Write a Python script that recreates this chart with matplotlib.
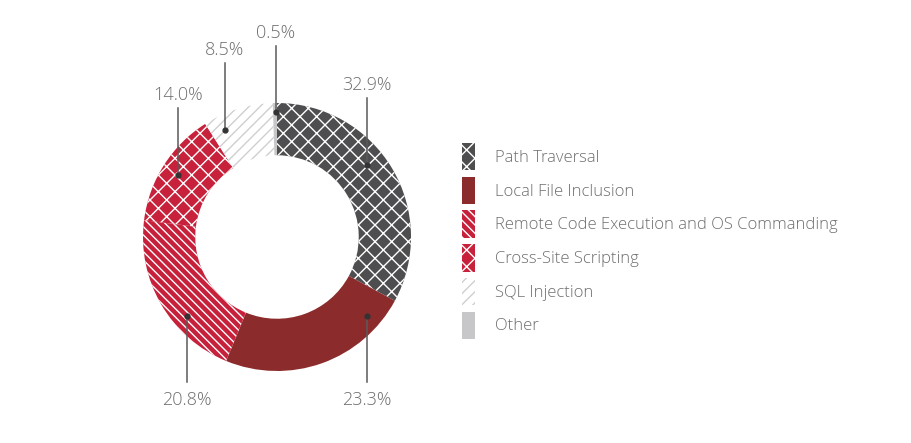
import matplotlib
matplotlib.use('Agg')
import matplotlib.pyplot as plt

categories = ['Path Traversal', 'Local File Inclusion',
              'Remote Code Execution and OS Commanding',
              'Cross-Site Scripting', 'SQL Injection', 'Other']
shares = [32.9, 23.3, 20.8, 14.0, 8.5, 0.5]
label_texts = ['32.9%', '23.3%', '20.8%', '14.0%', '8.5%', '0.5%']

face_colors = ['#4e4e50', '#8c2b2b', '#c6203b', '#c8213b', '#ffffff', '#c7c7c9']
hatch_colors = ['#ffffff', '#8c2b2b', '#ffffff', '#ffffff', '#cfcfcf', '#c7c7c9']
hatches = ['xx', '', '\\\\\\\\', 'xx', '///', '']

# leader layout in pixels: (x, label y, dot y)
leaders = [(367, 85, 165), (367, 400, 316), (187, 400, 316),
           (178, 95, 175), (225, 50, 130), (276, 33, 112)]

W, H = 912, 443
CX, CY, R = 277, 237, 134

plt.rcParams['font.family'] = ['Open Sans', 'DejaVu Sans']
plt.rcParams['hatch.linewidth'] = 1.0

fig = plt.figure(figsize=(W / 100, H / 100), dpi=100)
ax = fig.add_axes([0, 0, 1, 1])

wedges, _ = ax.pie(shares, startangle=90, counterclock=False, radius=1.0,
                   colors=face_colors,
                   wedgeprops=dict(width=0.39, linewidth=0))
for w, h, hc in zip(wedges, hatches, hatch_colors):
    w.set_edgecolor(hc)
    w.set_linewidth(0)
    if h:
        w.set_hatch(h)

ax.set_xlim(-CX / R, (W - CX) / R)
ax.set_ylim(-(H - CY) / R, CY / R)
ax.set_aspect('auto')
ax.axis('off')


def to_data(px, py):
    return (px - CX) / R, (CY - py) / R


for txt, (lx, ly, dy) in zip(label_texts, leaders):
    x, y_lab = to_data(lx, ly)
    _, y_dot = to_data(lx, dy)
    if ly < dy:
        y_end = to_data(lx, ly + 13)[1]
    else:
        y_end = to_data(lx, ly - 18)[1]
    ax.plot([x, x], [y_dot, y_end], color='#5a5a5a', lw=1.1, zorder=5)
    ax.plot([x], [y_dot], 'o', color='#333333', ms=3.5, zorder=6)
    ax.text(x, y_lab, txt, ha='center', va='center', fontsize=13,
            color='#6e6e6e', fontweight='light')

leg = ax.legend(wedges, categories, loc='upper left',
                bbox_to_anchor=(462 / W, 1 - 143 / H),
                bbox_transform=fig.transFigure, frameon=False,
                fontsize=12, handlelength=0.78, handleheight=2.15,
                labelspacing=0.38, handletextpad=1.22, borderpad=0,
                borderaxespad=0)
for t in leg.get_texts():
    t.set_color('#6e6e6e')
    t.set_fontweight('light')

fig.savefig('out.png', dpi=100, facecolor='white')
